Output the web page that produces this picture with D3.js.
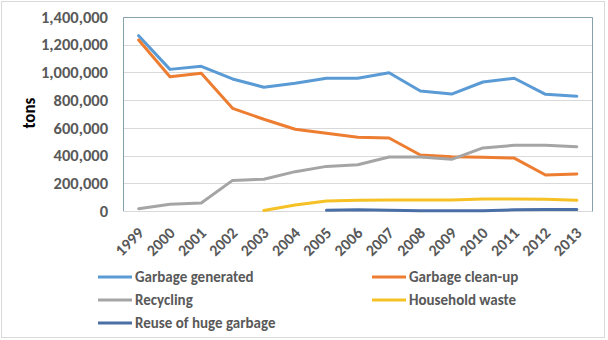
<!DOCTYPE html>
<html><head><meta charset="utf-8">
<script src="https://cdn.jsdelivr.net/npm/d3@7"></script>
<style>body{margin:0;background:#fff}svg{display:block}</style>
</head><body>
<svg id="c" width="608" height="340"></svg>
<script>
const years = ["1999","2000","2001","2002","2003","2004","2005","2006","2007","2008","2009","2010","2011","2012","2013"];
const garbageGenerated = [1265000,1022000,1044000,953000,893000,922000,958000,958000,998000,866000,844000,931000,958000,842000,828000];
const garbageCleanUp = [1234000,969000,994000,741000,662000,590000,561000,532000,527000,404000,392000,387000,382000,260000,267000];
const recycling = [17000,48000,58000,221000,229000,284000,322000,334000,390000,390000,373000,455000,474000,474000,464000];
const householdWaste = [null,null,null,null,3000,43000,72000,77000,79000,79000,79000,87000,87000,85000,77000];
const reuseHugeGarbage = [null,null,null,null,null,null,5000,9000,5000,1000,1000,1000,9000,11000,11000];
const yTicks = [0,200000,400000,600000,800000,1000000,1200000,1400000];
const seriesNames = ["Garbage generated","Garbage clean-up","Recycling","Household waste","Reuse of huge garbage"];
const seriesColors = ["#5B9BD5","#ED7D31","#A5A5A5","#F5C125","#4A6EA6"];
const seriesValues = [garbageGenerated,garbageCleanUp,recycling,householdWaste,reuseHugeGarbage];

const svg = d3.select("#c");
const font = "Calibri, Carlito, 'Liberation Sans', Arial, sans-serif";
svg.append("rect").attr("x",1.5).attr("y",1.5).attr("width",603).attr("height",336)
  .attr("fill","#fff").attr("stroke","#d9d9d9");

const L=123, R=592.5, T=17, B=211;
const x = d3.scaleBand().domain(years).range([L,R]);
const y = d3.scaleLinear().domain([0,1400000]).range([B,T]);

// gridlines
svg.append("g").selectAll("line").data(yTicks).join("line")
  .attr("x1",L).attr("x2",R).attr("y1",d=>Math.round(y(d))+0.5).attr("y2",d=>Math.round(y(d))+0.5)
  .attr("stroke","#d9d9d9").attr("stroke-width",1);

// plot border (left, top, right)
svg.append("path").attr("d",`M${L+0.5},${B}V${T+0.5}H${R}V${B+0.5}`)
  .attr("fill","none").attr("stroke","#86a3ad").attr("stroke-width",1);

// y axis
const yAxis = d3.axisLeft(y).tickValues(yTicks).tickFormat(d3.format(",")).tickSize(0).tickPadding(15);
const gy = svg.append("g").attr("transform",`translate(${L},0)`).call(yAxis);
gy.select(".domain").remove();
gy.selectAll("text").attr("font-family",font).attr("font-size","16.5px").attr("fill","#595959").attr("font-weight","bold");

// x axis
const xAxis = d3.axisBottom(x).tickSize(0).tickPadding(0);
const gx = svg.append("g").attr("transform",`translate(0,${B})`).call(xAxis);
gx.select(".domain").remove();
gx.selectAll("text").attr("font-family",font).attr("font-size","16px").attr("fill","#595959").attr("font-weight","bold")
  .attr("text-anchor","end").attr("dy",null).attr("y",0)
  .attr("transform","translate(6,23) rotate(-45)");

// y title
svg.append("text").attr("transform","translate(35,113) rotate(-90)").attr("text-anchor","middle")
  .attr("font-family",font).attr("font-size","17px").attr("font-weight","bold").attr("fill","#000").text("tons");

// lines
const line = d3.line().defined(d=>d!=null).x((d,i)=>x(years[i])+x.bandwidth()/2).y(d=>y(d));
seriesValues.forEach((vals,k)=>{
  svg.append("path").datum(vals).attr("d",line).attr("fill","none")
    .attr("stroke",seriesColors[k]).attr("stroke-width",3).attr("stroke-linejoin","round").attr("stroke-linecap","round");
});

// legend
const legPos = [[98,277],[372,277],[98,300],[372,300],[98,323]];
seriesNames.forEach((n,k)=>{
  const [lx,ly]=legPos[k];
  svg.append("line").attr("x1",lx).attr("x2",lx+34).attr("y1",ly).attr("y2",ly)
    .attr("stroke",seriesColors[k]).attr("stroke-width",3);
  svg.append("text").attr("x",lx+37).attr("y",ly+5).attr("font-family",font).attr("font-size","15px")
    .attr("fill","#595959").attr("font-weight","bold").text(n);
});
</script>
</body></html>
